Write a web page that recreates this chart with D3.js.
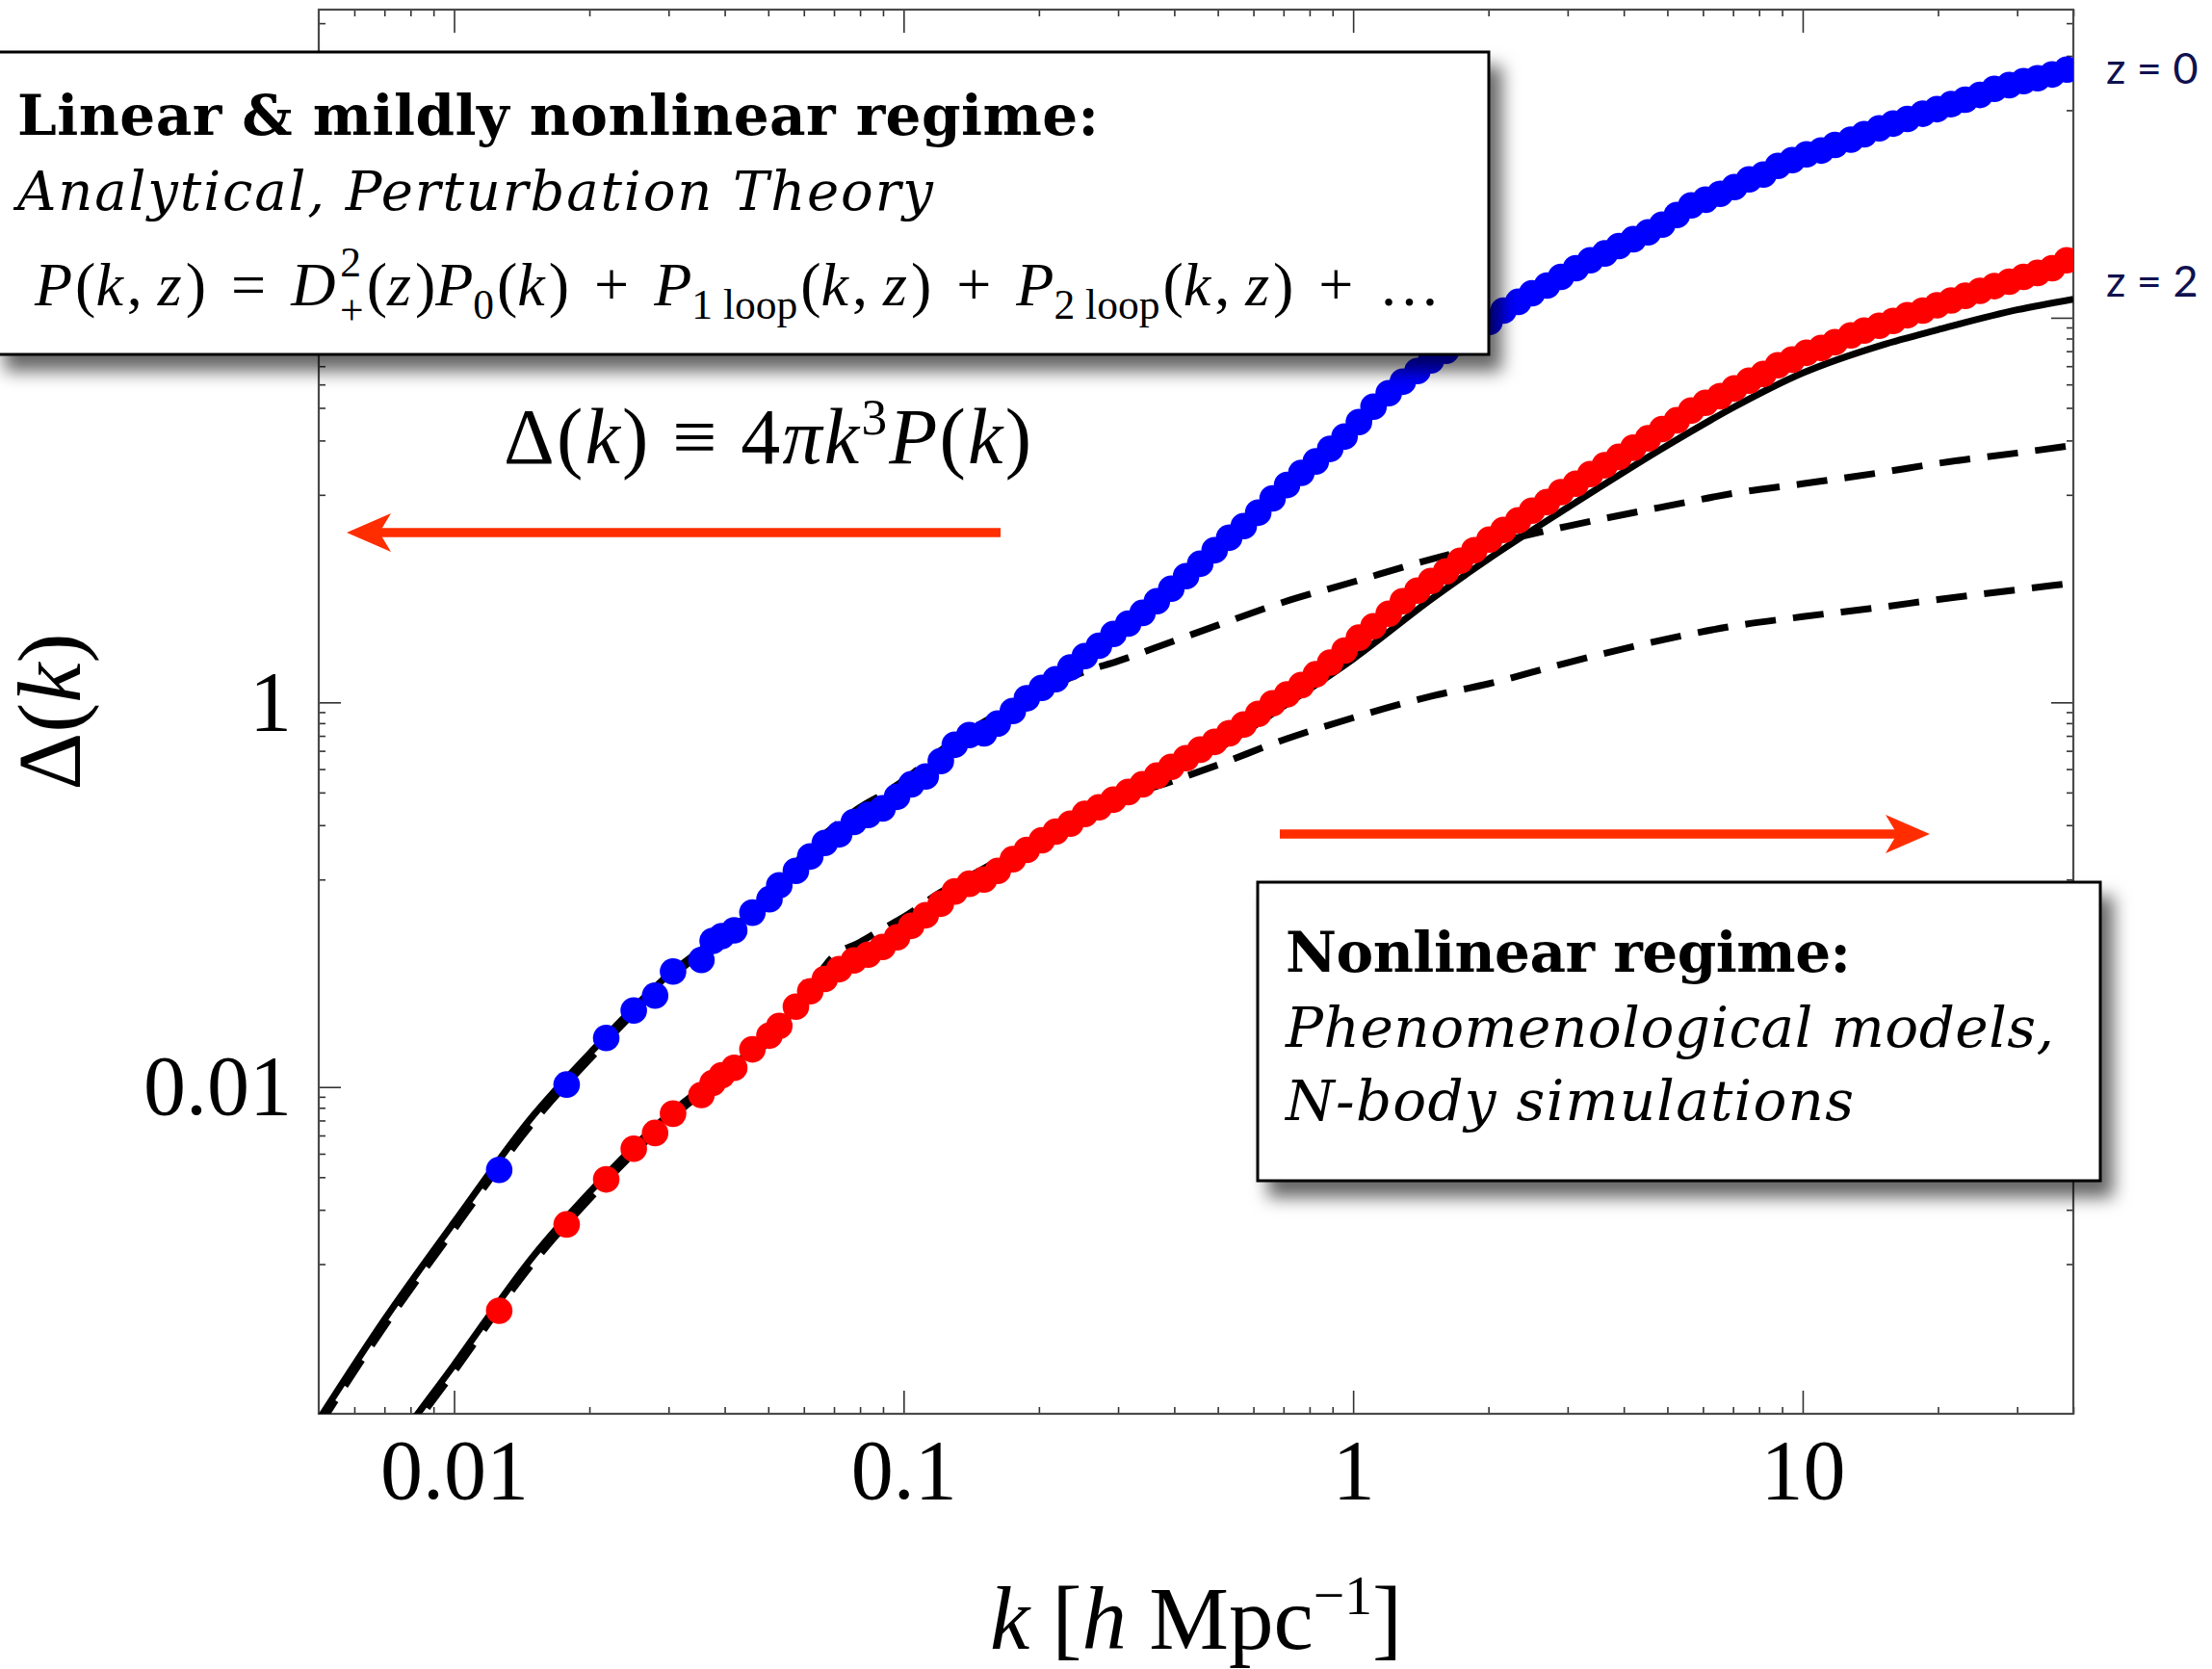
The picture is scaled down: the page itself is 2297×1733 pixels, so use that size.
<!DOCTYPE html>
<html>
<head>
<meta charset="utf-8">
<script src="https://cdn.jsdelivr.net/npm/d3@7"></script>
<style>
  html, body { margin: 0; padding: 0; background: #ffffff; }
  svg { display: block; }
</style>
</head>
<body>
<svg id="chart" width="2297" height="1733"></svg>
<script>
// ---------------- DATA ----------------
// simulation / fitted points (dots), shared k grid
const kSim = [0.0126, 0.0178, 0.0218, 0.0251, 0.0280, 0.0307, 0.0355, 0.0376, 0.0394, 0.0420, 0.0461, 0.0503, 0.0529,
  0.0576, 0.0620, 0.0668, 0.0719, 0.0775, 0.0834, 0.0898, 0.0967, 0.104, 0.112,
  0.121, 0.130, 0.140, 0.151, 0.162, 0.175, 0.188, 0.203, 0.218, 0.235,
  0.253, 0.272, 0.293, 0.316, 0.340, 0.366, 0.394, 0.425, 0.457, 0.492,
  0.530, 0.571, 0.615, 0.662, 0.713, 0.767, 0.826, 0.889, 0.957, 1.03,
  1.11, 1.20, 1.29, 1.39, 1.49, 1.61, 1.73, 1.86, 2.01, 2.16,
  2.33, 2.50, 2.70, 2.90, 3.13, 3.37, 3.63, 3.90, 4.20, 4.53,
  4.87, 5.25, 5.65, 6.08, 6.55, 7.05, 7.60, 8.18, 8.81, 9.48,
  10.2, 11.0, 11.8, 12.8, 13.7, 14.8, 15.9, 17.1, 18.5, 19.9,
  21.4, 23.0, 24.8, 26.7, 28.8, 31.0, 33.3, 35.9, 38.7];
const deltaSimZ0 = [0.00371, 0.0103, 0.0180, 0.0250, 0.0299, 0.0399, 0.0458, 0.0575, 0.0609, 0.0653, 0.0807, 0.0948, 0.112,
  0.133, 0.158, 0.186, 0.206, 0.239, 0.260, 0.281, 0.323, 0.375, 0.412,
  0.495, 0.602, 0.676, 0.691, 0.776, 0.902, 1.05, 1.19, 1.32, 1.52,
  1.74, 1.97, 2.27, 2.57, 2.92, 3.36, 3.90, 4.53, 5.26, 6.18,
  7.18, 8.25, 9.69, 11.5, 13.5, 15.6, 17.9, 20.8, 24.1, 28.7,
  34.5, 40.5, 46.5, 52.8, 60.0, 67.3, 74.6, 84.7, 95.1, 109,
  121, 134, 147, 163, 181, 199, 216, 236, 256, 278,
  305, 342, 384, 411, 441, 478, 524, 555, 616, 660,
  707, 740, 792, 843, 900, 965, 1022, 1080, 1150, 1215,
  1290, 1360, 1440, 1550, 1620, 1700, 1760, 1840, 1950];
const deltaSimZ2 = [0.000687, 0.00193, 0.00331, 0.00478, 0.00577, 0.00727, 0.00909, 0.0105, 0.0115, 0.0126, 0.0157, 0.0185, 0.0208,
  0.0262, 0.0315, 0.0365, 0.0410, 0.0455, 0.0488, 0.0535, 0.0600, 0.0689, 0.0782,
  0.0898, 0.104, 0.114, 0.120, 0.133, 0.153, 0.171, 0.192, 0.213, 0.234,
  0.263, 0.285, 0.312, 0.342, 0.375, 0.416, 0.462, 0.513, 0.568, 0.623,
  0.691, 0.767, 0.871, 0.989, 1.10, 1.23, 1.40, 1.61, 1.86, 2.17,
  2.49, 2.89, 3.36, 3.81, 4.28, 4.80, 5.45, 6.18, 7.02, 7.88,
  8.84, 9.92, 11.0, 12.4, 13.7, 15.4, 17.1, 18.9, 21.1, 23.6,
  26.4, 29.3, 32.9, 36.1, 39.1, 42.9, 47.1, 51.0, 56.6, 60.6,
  65.7, 69.6, 74.6, 80.9, 85.7, 90.8, 96.2, 103, 109, 116,
  123, 130, 138, 146, 154, 163, 171, 181, 199];

// theory curves (solid = nonlinear, dashed = linear)
const kTheory = [0.005, 0.007, 0.01, 0.015, 0.02, 0.03, 0.04, 0.05, 0.06, 0.07, 0.08, 0.09, 0.1, 0.12, 0.15, 0.2,
  0.25, 0.3, 0.4, 0.5, 0.7, 1, 1.5, 2, 3, 5, 7, 10, 15, 20, 30, 40];
const deltaNonlinZ0 = [1.86e-4, 6.17e-4, 1.98e-3, 7.11e-3, 0.0149, 0.0383, 0.0636, 0.0930, 0.144, 0.201, 0.245, 0.281, 0.338, 0.489, 0.700, 1.16,
  1.68, 2.35, 4.04, 6.40, 13.2, 25.2, 59.3, 91.8, 171, 312, 467, 691, 943, 1200, 1660, 1950];
const deltaLinZ0 = [1.72e-4, 5.69e-4, 1.82e-3, 6.56e-3, 0.0139, 0.0361, 0.0621, 0.0919, 0.164, 0.226, 0.285, 0.334, 0.393, 0.555, 0.785, 1.11,
  1.43, 1.64, 2.09, 2.52, 3.32, 4.23, 5.57, 6.63, 8.25, 10.5, 12.2, 13.7, 15.7, 17.5, 19.8, 21.7];
const deltaNonlinZ2 = [3.45e-5, 1.15e-4, 3.59e-4, 1.32e-3, 2.83e-3, 7.19e-3, 0.0121, 0.0183, 0.0290, 0.0392, 0.0471, 0.0535, 0.0621, 0.0878, 0.120, 0.188,
  0.251, 0.316, 0.457, 0.575, 0.955, 1.68, 3.47, 5.57, 10.3, 21.7, 34.1, 51.6, 72.1, 86.7, 110, 125];
const deltaLinZ2 = [3.19e-5, 1.06e-4, 3.31e-4, 1.22e-3, 2.61e-3, 6.71e-3, 0.0115, 0.0171, 0.0297, 0.0482, 0.0566, 0.0666, 0.0764, 0.102, 0.136, 0.197,
  0.257, 0.312, 0.393, 0.473, 0.638, 0.832, 1.08, 1.25, 1.61, 2.14, 2.49, 2.79, 3.13, 3.43, 3.85, 4.18];

// ticks (the label of the 100 tick is hidden behind the box in the original)
const xMajorTicks = [0.01, 0.1, 1, 10];
const xTickLabels = ["0.01", "0.1", "1", "10"];
const xMinorTicks = [0.006, 0.007, 0.008, 0.009, 0.02, 0.03, 0.04, 0.05, 0.06, 0.07, 0.08, 0.09,
  0.2, 0.3, 0.4, 0.5, 0.6, 0.7, 0.8, 0.9, 2, 3, 4, 5, 6, 7, 8, 9, 20, 30, 40];
const yMajorTicks = [0.01, 1, 100];
const yTickLabels = ["0.01", "1", ""];
const yMinorTicks = [0.0012, 0.0023, 0.0034, 0.0045, 0.0056, 0.0067, 0.0078, 0.0089,
  0.12, 0.23, 0.34, 0.45, 0.56, 0.67, 0.78, 0.89, 12, 23, 34, 45, 56, 67, 78, 89, 1200, 2300, 3400];
const zLabels = ["z = 0", "z = 2"];

// ---------------- CHART ----------------
const svg = d3.select("#chart");
const L = 331, R = 2153, T = 10, B = 1468;
const x = d3.scaleLog().domain([0.005, 40]).range([L, R]);
const y = d3.scaleLog().domain([2e-4, 4000]).range([B, T]);
const serif = "'Liberation Serif', 'Times New Roman', serif";
const NB = "\u00A0";

const defs = svg.append("defs");
defs.append("clipPath").attr("id", "plotclip").append("rect")
  .attr("x", L).attr("y", T).attr("width", R - L).attr("height", B - T);
const f = defs.append("filter").attr("id", "shadow")
  .attr("x", "-5%").attr("y", "-10%").attr("width", "115%").attr("height", "130%");
f.append("feDropShadow").attr("dx", 12).attr("dy", 16).attr("stdDeviation", 9)
  .attr("flood-color", "#000").attr("flood-opacity", 0.6);

svg.append("rect").attr("width", 2297).attr("height", 1733).attr("fill", "#fff");

// axes
function styleAxis(g) {
  g.select(".domain").remove();
  g.selectAll(".tick line").attr("stroke", "#333").attr("stroke-width", 1.6);
  g.selectAll(".tick text").attr("fill", "#000");
  g.attr("font-family", serif).attr("font-size", 88);
}
svg.append("g").attr("transform", `translate(0,${B})`)
  .call(d3.axisBottom(x).tickValues(xMajorTicks).tickSizeInner(-24).tickSizeOuter(0).tickPadding(26)
    .tickFormat((d, i) => xTickLabels[i])).call(styleAxis);
svg.append("g").attr("transform", `translate(0,${B})`)
  .call(d3.axisBottom(x).tickValues(xMinorTicks).tickSizeInner(-7).tickSizeOuter(0).tickFormat(() => "")).call(styleAxis);
svg.append("g").attr("transform", `translate(0,${T})`)
  .call(d3.axisTop(x).tickValues(xMajorTicks).tickSizeInner(-24).tickSizeOuter(0).tickFormat(() => "")).call(styleAxis);
svg.append("g").attr("transform", `translate(0,${T})`)
  .call(d3.axisTop(x).tickValues(xMinorTicks).tickSizeInner(-7).tickSizeOuter(0).tickFormat(() => "")).call(styleAxis);
svg.append("g").attr("transform", `translate(${L},0)`)
  .call(d3.axisLeft(y).tickValues(yMajorTicks).tickSizeInner(-23).tickSizeOuter(0).tickPadding(28)
    .tickFormat((d, i) => yTickLabels[i])).call(styleAxis);
svg.append("g").attr("transform", `translate(${L},0)`)
  .call(d3.axisLeft(y).tickValues(yMinorTicks).tickSizeInner(-7).tickSizeOuter(0).tickFormat(() => "")).call(styleAxis);
svg.append("g").attr("transform", `translate(${R},0)`)
  .call(d3.axisRight(y).tickValues(yMajorTicks).tickSizeInner(-23).tickSizeOuter(0).tickFormat(() => "")).call(styleAxis);
svg.append("g").attr("transform", `translate(${R},0)`)
  .call(d3.axisRight(y).tickValues(yMinorTicks).tickSizeInner(-7).tickSizeOuter(0).tickFormat(() => "")).call(styleAxis);

svg.append("rect").attr("x", L).attr("y", T).attr("width", R - L).attr("height", B - T)
  .attr("fill", "none").attr("stroke", "#4a4a4a").attr("stroke-width", 2.2);

// curves
const plot = svg.append("g").attr("clip-path", "url(#plotclip)");
const line = d3.line().x(d => x(d[0])).y(d => y(d[1])).curve(d3.curveMonotoneX);
const curves = [
  { v: deltaLinZ0, dash: "32,18" },
  { v: deltaNonlinZ0, dash: null },
  { v: deltaLinZ2, dash: "32,18" },
  { v: deltaNonlinZ2, dash: null }
];
curves.forEach(c => {
  plot.append("path").datum(kTheory.map((k, i) => [k, c.v[i]]))
    .attr("d", line).attr("fill", "none").attr("stroke", "#000").attr("stroke-width", 7)
    .attr("stroke-dasharray", c.dash);
});
// dots
[[deltaSimZ2, "#ff0000"], [deltaSimZ0, "#0000ff"]].forEach(([vals, col]) => {
  plot.append("g").selectAll("circle").data(kSim.map((k, i) => [k, vals[i]])).join("circle")
    .attr("cx", d => x(d[0])).attr("cy", d => y(d[1])).attr("r", 13.8).attr("fill", col);
});

// red arrows
const red = "#ff2d00";
function arrow(x0, x1, yy) {
  const dir = Math.sign(x1 - x0);
  const tip = x1, back = x1 - dir * 46, notch = x1 - dir * 34;
  svg.append("line").attr("x1", x0).attr("y1", yy).attr("x2", notch).attr("y2", yy)
    .attr("stroke", red).attr("stroke-width", 9.5);
  svg.append("path").attr("d", `M${tip},${yy} L${back},${yy - 20} L${notch},${yy} L${back},${yy + 20} Z`)
    .attr("fill", red);
}
arrow(1039, 360, 553);
arrow(1329, 2004, 866);

// rich text helper
function rich(parent, xx, yy, size, family, parts, len, anchor) {
  const t = parent.append("text").attr("x", xx).attr("y", yy).attr("font-family", family)
    .attr("font-size", size).attr("fill", "#000");
  if (anchor) t.attr("text-anchor", anchor);
  parts.forEach(p => {
    const s = t.append("tspan").text(p.t);
    if (p.i) s.attr("font-style", "italic");
    if (p.s) s.attr("font-size", size * p.s);
    if (p.dy) s.attr("dy", p.dy);
    if (p.dx) s.attr("dx", p.dx);
  });
  if (len) t.attr("textLength", len).attr("lengthAdjust", "spacing");
  return t;
}

// Delta definition
rich(svg, 523, 481, 82, serif, [
  { t: "Δ(" }, { t: "k", i: 1 }, { t: ") ≡ 4" }, { t: "π", i: 1 }, { t: "k", i: 1 },
  { t: "3", s: 0.65, dy: -30 }, { t: "P", i: 1, dy: 30 }, { t: "(" }, { t: "k", i: 1 }, { t: ")" }
], 548);

// axis titles
rich(svg, 1242, 1712, 93, serif, [
  { t: "k", i: 1 }, { t: " [" }, { t: "h", i: 1 }, { t: " Mpc" }, { t: "−1", s: 0.62, dy: -36 }, { t: "]", dy: 36 }
], null, "middle");
const yt = svg.append("g").attr("transform", "translate(83,739) rotate(-90)");
rich(yt, 0, 0, 93, serif, [{ t: "Δ(" }, { t: "k", i: 1 }, { t: ")" }], null, "middle");

// box 1
const slab = "'DejaVu Serif', serif";
const b1 = svg.append("g");
b1.append("rect").attr("x", -6).attr("y", 54).attr("width", 1552).attr("height", 314)
  .attr("fill", "#fff").attr("stroke", "#000").attr("stroke-width", 3).attr("filter", "url(#shadow)");
b1.append("text").attr("x", 18).attr("y", 140).attr("font-family", slab).attr("font-weight", "bold")
  .attr("font-size", 58).attr("textLength", 1123).attr("lengthAdjust", "spacing")
  .text("Linear & mildly nonlinear regime:");
b1.append("text").attr("x", 18).attr("y", 218).attr("font-family", slab).attr("font-style", "italic")
  .attr("font-size", 56).attr("textLength", 951).attr("lengthAdjust", "spacing")
  .text("Analytical, Perturbation Theory");
rich(b1, 36, 317, 64, serif, [
  { t: "P", i: 1 }, { t: "(", dx: 3 }, { t: "k", i: 1 }, { t: "," + NB, dx: 4 }, { t: "z", i: 1 }, { t: ")", dx: 4 },
  { t: "=", dx: 26 }, { t: "D", i: 1, dx: 26 },
  { t: "2", s: 0.68, dx: 5, dy: -30 }, { t: "+", s: 0.68, dx: -22, dy: 50 }, { t: "(", dx: 3, dy: -20 }, { t: "z", i: 1 }, { t: ")", dx: 4 },
  { t: "P", i: 1 }, { t: "0", s: 0.68, dy: 14 }, { t: "(", dx: 3, dy: -14 }, { t: "k", i: 1 }, { t: ")", dx: 4 },
  { t: "+", dx: 26 }, { t: "P", i: 1, dx: 26 }, { t: "1" + NB + "loop", s: 0.68, dy: 14 }, { t: "(", dx: 3, dy: -14 },
  { t: "k", i: 1 }, { t: "," + NB, dx: 4 }, { t: "z", i: 1 }, { t: ")", dx: 4 },
  { t: "+", dx: 26 }, { t: "P", i: 1, dx: 26 }, { t: "2" + NB + "loop", s: 0.68, dy: 14 }, { t: "(", dx: 3, dy: -14 },
  { t: "k", i: 1 }, { t: "," + NB, dx: 4 }, { t: "z", i: 1 }, { t: ")", dx: 4 },
  { t: "+", dx: 26 }, { t: "…", dx: 26 }
]);

// box 2
const b2 = svg.append("g");
b2.append("rect").attr("x", 1306).attr("y", 916).attr("width", 875).attr("height", 310)
  .attr("fill", "#fff").attr("stroke", "#000").attr("stroke-width", 3).attr("filter", "url(#shadow)");
b2.append("text").attr("x", 1335).attr("y", 1009).attr("font-family", slab).attr("font-weight", "bold")
  .attr("font-size", 58).attr("textLength", 587).attr("lengthAdjust", "spacing").text("Nonlinear regime:");
b2.append("text").attr("x", 1335).attr("y", 1087).attr("font-family", slab).attr("font-style", "italic")
  .attr("font-size", 58).attr("textLength", 798).attr("lengthAdjust", "spacing").text("Phenomenological models,");
b2.append("text").attr("x", 1335).attr("y", 1163).attr("font-family", slab).attr("font-style", "italic")
  .attr("font-size", 58).attr("textLength", 590).attr("lengthAdjust", "spacing").text("N-body simulations");

// z labels
svg.selectAll("text.zlab").data(zLabels).join("text").attr("class", "zlab")
  .attr("x", 2187).attr("y", (d, i) => [87, 308][i])
  .attr("font-family", "Lato, 'Open Sans', sans-serif").attr("font-size", 45).attr("fill", "#10114f")
  .text(d => d);
</script>
</body>
</html>
